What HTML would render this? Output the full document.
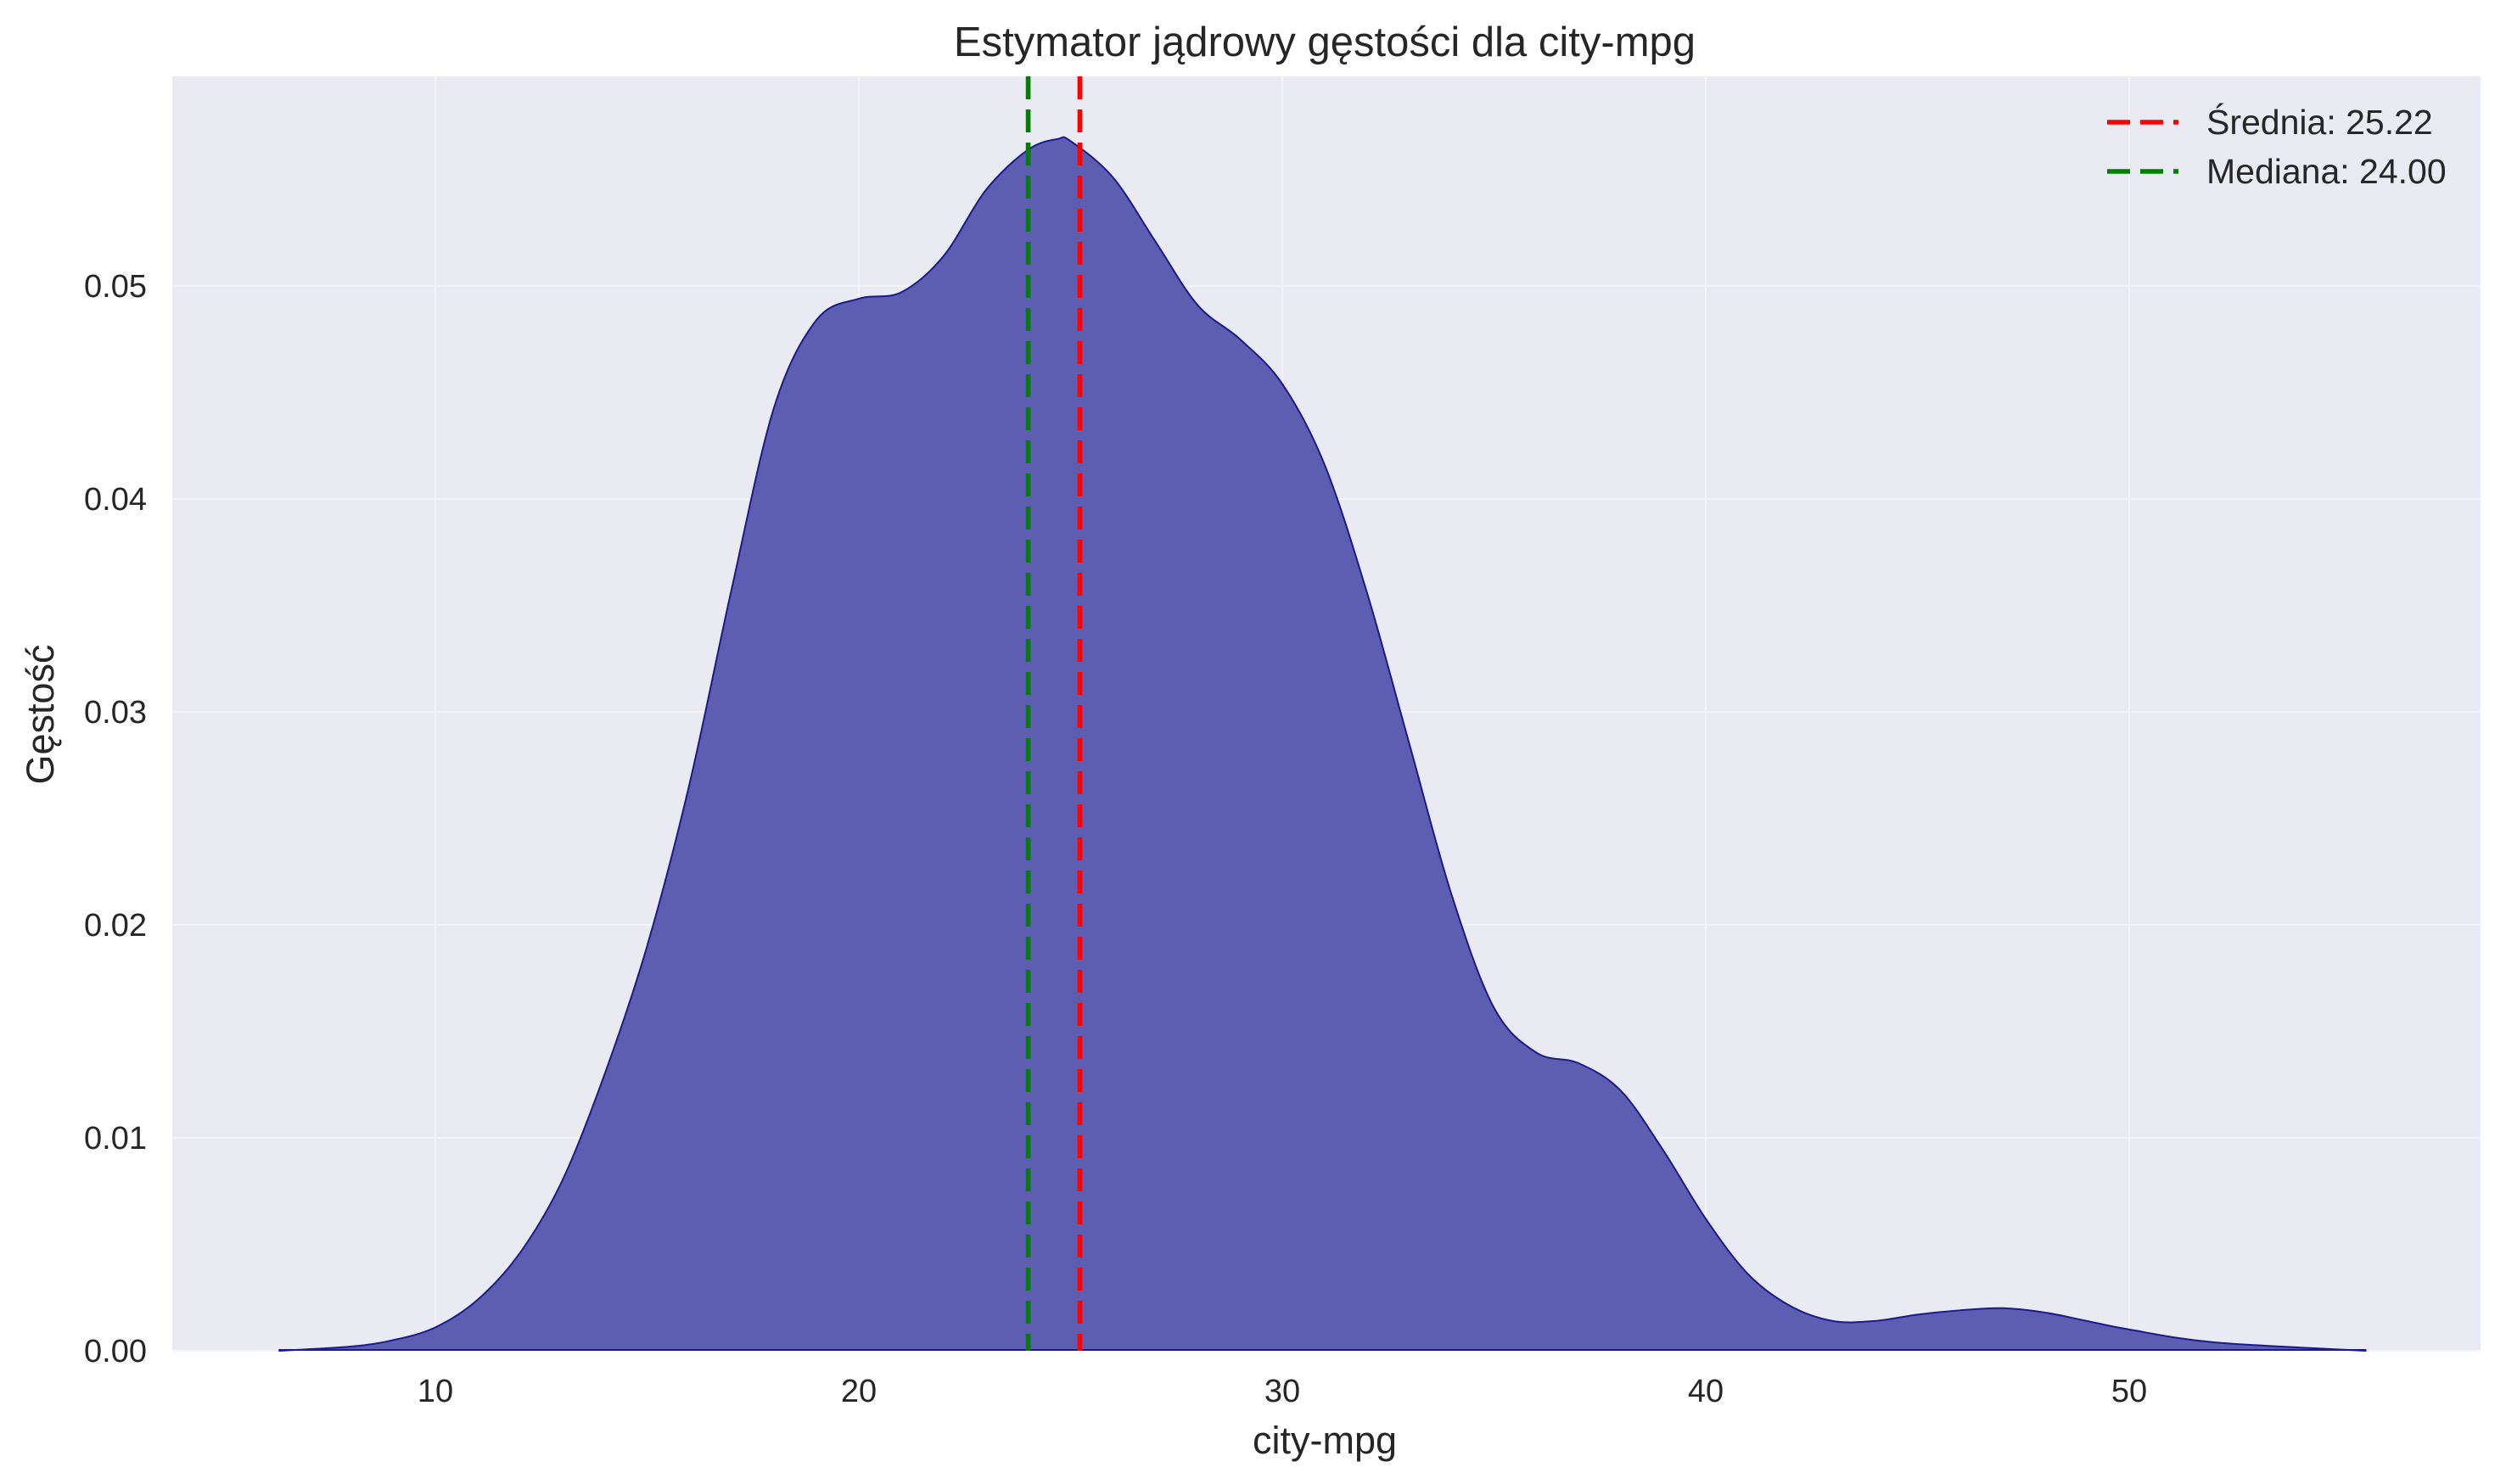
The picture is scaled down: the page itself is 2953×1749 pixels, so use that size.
<!DOCTYPE html>
<html><head><meta charset="utf-8"><style>
html,body{margin:0;padding:0;background:#fff;}
svg{display:block;font-family:"Liberation Sans","DejaVu Sans",sans-serif;}
</style></head><body>
<svg id="chart" width="2953" height="1749" viewBox="0 0 2953 1749" xmlns="http://www.w3.org/2000/svg">
<rect x="203" y="90" width="2720" height="1502" fill="#eaeaf2"/>
<g id="grid"></g>
<g id="marks"></g>
<g id="ticks"></g>
<text x="1561" y="66" font-size="49" fill="#262626" text-anchor="middle">Estymator jądrowy gęstości dla city-mpg</text>
<text x="1561" y="1713" font-size="45" fill="#262626" text-anchor="middle">city-mpg</text>
<text transform="translate(63,842) rotate(-90)" font-size="45" fill="#262626" text-anchor="middle">Gęstość</text>
<g>
<line x1="2483" y1="144" x2="2567" y2="144" stroke="#ff0000" stroke-width="5.6" stroke-dasharray="27,12"/>
<text x="2600" y="158" font-size="41" fill="#262626">Średnia: 25.22</text>
<line x1="2483" y1="202" x2="2567" y2="202" stroke="#008000" stroke-width="5.6" stroke-dasharray="27,12"/>
<text x="2600" y="216" font-size="41" fill="#262626">Mediana: 24.00</text>
</g>
</svg>
<script>
const xsData=[6.3,8,9,10,11,12,13,14,15,16,17,18,19,20,21,22,23,24,24.7,25,26,27,28,29,30,31,32,33,34,35,36,37,38,39,40,41,42,43,44,45,46,47,48,49,50,52,55.6];
const density=[0,0.0002,0.0005,0.0011,0.0024,0.0046,0.008,0.013,0.019,0.0266,0.0358,0.0443,0.0484,0.0494,0.0497,0.0514,0.0545,0.0564,0.0569,0.0568,0.0551,0.0521,0.0491,0.0475,0.0454,0.0416,0.0356,0.0285,0.0214,0.0161,0.014,0.0135,0.0122,0.0094,0.0062,0.0036,0.0021,0.0014,0.0014,0.0017,0.0019,0.002,0.0018,0.0014,0.001,0.0004,0];
const xTicks=[10,20,30,40,50];
const yTicks=[0,0.01,0.02,0.03,0.04,0.05];
const yTickLabels=["0.00","0.01","0.02","0.03","0.04","0.05"];
const meanValue=25.22;
const medianValue=24.0;
const NS="http://www.w3.org/2000/svg";
function sx(v){return 14+v*49.9;}
function sy(v){return 1592-v*25100;}
function mk(tag,attrs,parent){const e=document.createElementNS(NS,tag);for(const k in attrs)e.setAttribute(k,attrs[k]);parent.appendChild(e);return e;}
const grid=document.getElementById('grid'),marks=document.getElementById('marks'),ticks=document.getElementById('ticks');
xTicks.forEach(t=>{
 const l=mk('line',{x1:sx(t),x2:sx(t),y1:90,y2:1592,stroke:'#f5f5f8','stroke-width':2},grid);
 
 
 const tx=mk('text',{x:sx(t),y:1652,'font-size':38,fill:'#262626','text-anchor':'middle'},ticks);
 tx.textContent=t;
 
 
});
yTicks.forEach((t,i)=>{
 const l=mk('line',{x1:203,x2:2923,y1:sy(t),y2:sy(t),stroke:'#f5f5f8','stroke-width':2},grid);
 
 
 const tx=mk('text',{x:173,y:sy(t)+13,'font-size':38,fill:'#262626','text-anchor':'end'},ticks);
 tx.textContent=yTickLabels[i];
 
 
});
const pts=xsData.map((x,i)=>[sx(x),sy(density[i])]);
let d='M'+pts[0][0]+','+pts[0][1];
for(let i=0;i<pts.length-1;i++){
 const p0=pts[Math.max(0,i-1)],p1=pts[i],p2=pts[i+1],p3=pts[Math.min(pts.length-1,i+2)];
 const c1=[p1[0]+(p2[0]-p0[0])/6,p1[1]+(p2[1]-p0[1])/6];
 const c2=[p2[0]-(p3[0]-p1[0])/6,p2[1]-(p3[1]-p1[1])/6];
 d+=' C'+c1[0]+','+Math.min(c1[1],1592)+' '+c2[0]+','+Math.min(c2[1],1592)+' '+p2[0]+','+p2[1];
}
const area=mk('path',{d:d+' L'+pts[pts.length-1][0]+',1592 L'+pts[0][0]+',1592 Z',fill:'#5d5db2',stroke:'none'},marks);


const line=mk('path',{d:d,fill:'none',stroke:'#1a1a8c','stroke-width':2},marks);


const base=mk('line',{x1:sx(xsData[0]),x2:sx(xsData[xsData.length-1]),y1:1591,y2:1591,stroke:'#1a1a8c','stroke-width':2},marks);


const ml=mk('line',{x1:sx(meanValue),x2:sx(meanValue),y1:90,y2:1592,stroke:'#ff0000','stroke-width':5.6,'stroke-dasharray':'27,12'},marks);


const md=mk('line',{x1:sx(medianValue),x2:sx(medianValue),y1:90,y2:1592,stroke:'#008000','stroke-width':5.6,'stroke-dasharray':'27,12'},marks);


</script>
</body></html>
